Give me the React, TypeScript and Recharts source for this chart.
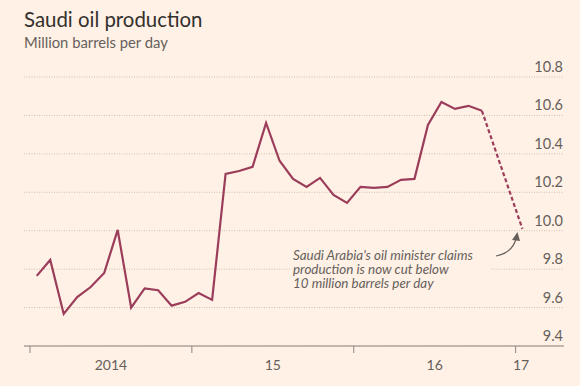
import React from "react";
import { LineChart, Line, XAxis, YAxis, CartesianGrid } from "recharts";

// Monthly Saudi oil production, million barrels per day (Jan 2014 – Oct 2016)
const values2014 = [9.765, 9.848, 9.567, 9.655, 9.707, 9.78, 10.004, 9.6, 9.7, 9.69, 9.61, 9.63];
const values2015 = [9.676, 9.64, 10.296, 10.311, 10.332, 10.561, 10.364, 10.27, 10.228, 10.275, 10.186, 10.145];
const values2016 = [10.228, 10.223, 10.228, 10.265, 10.27, 10.55, 10.67, 10.634, 10.65, 10.624];
// Claimed level (Jan 2017)
const claimedValue = 10.01;

const yTicks = [9.4, 9.6, 9.8, 10.0, 10.2, 10.4, 10.6, 10.8];
const yearBoundaries = [0, 12, 24, 36];
const yearLabels = ["2014", "15", "16", "17"];
const yearLabelPositions = [6, 18, 30, 36.4];

const actual = [...values2014, ...values2015, ...values2016];
const data = actual.map((v, i) => ({
  x: i + 0.5,
  solid: v,
  dashed: i === actual.length - 1 ? v : null,
}));
data.push({ x: 36.5, solid: null as any, dashed: claimedValue });

const BG = "#fff1e5";
const LINE = "#9b3d5a";
const TEXT = "#66605c";
const FONT = "Lato, 'Open Sans', sans-serif";

const XTick = (props: any) => {
  const { x, y, payload } = props;
  const v = payload.value;
  const bi = yearBoundaries.indexOf(v);
  if (bi >= 0) {
    return <line x1={x} x2={x} y1={y - 8} y2={y - 1} stroke="#8c8680" strokeWidth={1} />;
  }
  const li = yearLabelPositions.indexOf(v);
  if (li < 0) return null;
  return (
    <text x={x} y={y + 16} textAnchor="middle" fill={TEXT} fontSize={14} fontFamily={FONT}>
      {yearLabels[li]}
    </text>
  );
};

const YTick = (props: any) => {
  const { x, y, payload } = props;
  return (
    <text x={x - 3} y={y - 5} textAnchor="end" fill={TEXT} fontSize={14.5} fontFamily={FONT}>
      {Number(payload.value).toFixed(1)}
    </text>
  );
};

export default function App() {
  return (
    <div style={{ position: "absolute", left: 0, top: 0, width: 580, height: 386, background: BG, overflow: "hidden" }}>
      <div style={{ position: "absolute", left: 24, top: 7, fontFamily: FONT, fontSize: 20.4, color: "#33302e", whiteSpace: "nowrap" }}>
        Saudi oil production
      </div>
      <div style={{ position: "absolute", left: 24, top: 33, fontFamily: FONT, fontSize: 14.8, color: TEXT, whiteSpace: "nowrap" }}>
        Million barrels per day
      </div>
      <div style={{ position: "absolute", left: 0, top: 0 }}>
        <LineChart width={580} height={386} data={data} margin={{ top: 77, right: 15, bottom: 0, left: 24 }}>
          <CartesianGrid vertical={false} stroke="#cdbfb2" strokeDasharray="1 1.5" />
          <XAxis
            dataKey="x"
            type="number"
            domain={[-0.444, 39.585]}
            allowDataOverflow
            ticks={[0, 6, 12, 18, 24, 30, 36, 36.4]}
            interval={0}
            tick={<XTick />}
            tickLine={false}
            axisLine={{ stroke: "#8c8680", strokeWidth: 1 }}
            height={40}
          />
          <YAxis
            orientation="right"
            width={1}
            type="number"
            domain={[9.4, 10.8]}
            ticks={yTicks}
            interval={0}
            allowDataOverflow
            axisLine={false}
            tickLine={false}
            tickSize={0}
            tickMargin={2}
            tick={<YTick />}
          />
          <Line
            type="linear"
            dataKey="solid"
            stroke={LINE}
            strokeWidth={2.2}
            dot={false}
            isAnimationActive={false}
            connectNulls={false}
          />
          <Line
            type="linear"
            dataKey="dashed"
            stroke={LINE}
            strokeWidth={2.2}
            strokeDasharray="4 2.5"
            dot={false}
            isAnimationActive={false}
            connectNulls
          />
        </LineChart>
      </div>
      <svg width={580} height={386} style={{ position: "absolute", left: 0, top: 0, pointerEvents: "none" }}>
        <rect x={290} y={244} width={200} height={46} fill={BG} />
        <text fontFamily={FONT} fontStyle="italic" fontSize={13.4} fill={TEXT}>
          <tspan x={293} y={260}>Saudi Arabia's oil minister claims</tspan>
          <tspan x={293} y={274}>production is now cut below</tspan>
          <tspan x={293} y={288}>10 million barrels per day</tspan>
        </text>
        <path d="M 496 256 Q 512 253 516 239" fill="none" stroke={TEXT} strokeWidth={1.2} />
        <path d="M 512 240 L 517.5 232 L 520 241 Z" fill={TEXT} />
      </svg>
    </div>
  );
}
